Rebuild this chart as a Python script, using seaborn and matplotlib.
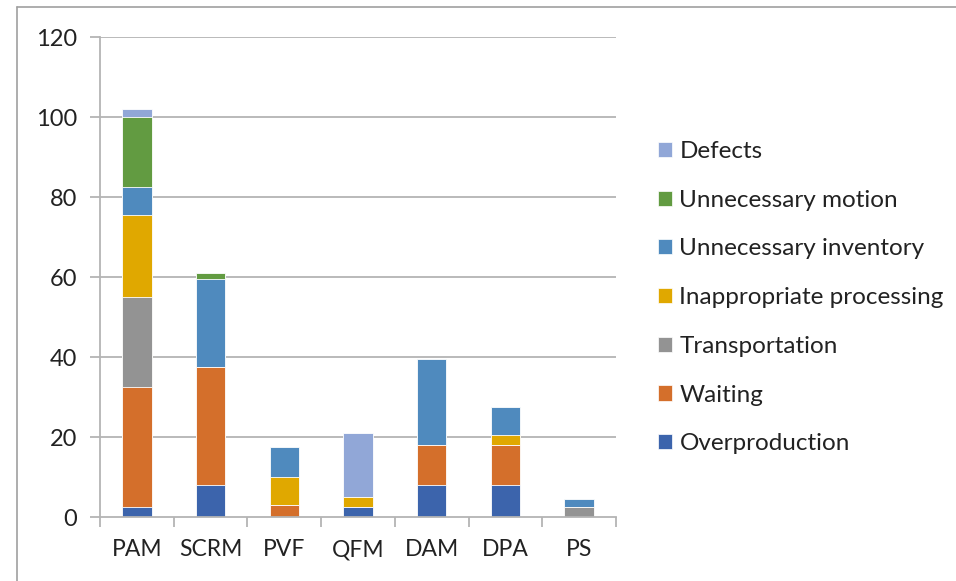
import matplotlib
matplotlib.use("Agg")
import matplotlib.pyplot as plt
from matplotlib.patches import Patch
from matplotlib.lines import Line2D
import seaborn as sns
import pandas as pd
import numpy as np

categories = ["PAM", "SCRM", "PVF", "QFM", "DAM", "DPA", "PS"]
series_names = ["Overproduction", "Waiting", "Transportation", "Inappropriate processing",
                "Unnecessary inventory", "Unnecessary motion", "Defects"]
overproduction = [2.5, 8, 0, 2.5, 8, 8, 0]
waiting = [30, 29.5, 3, 0, 10, 10, 0]
transportation = [22.5, 0, 0, 0, 0, 0, 2.5]
inappropriate = [20.5, 0, 7, 2.5, 0, 2.5, 0]
inventory = [7, 22, 7.5, 0, 21.5, 7, 2]
motion = [17.5, 1.5, 0, 0, 0, 0, 0]
defects = [2, 0, 0, 16, 0, 0, 0]
yticks = [0, 20, 40, 60, 80, 100, 120]

colors = ["#3C64AC", "#D46F2B", "#939393", "#E0A800", "#4F8ABE", "#629B41", "#91A7D7"]

sns.set_theme(style="white")
plt.rcParams["font.family"] = ["Lato", "DejaVu Sans"]

values = [overproduction, waiting, transportation, inappropriate, inventory, motion, defects]
cum = np.cumsum(np.array(values, dtype=float), axis=0)

fig = plt.figure(figsize=(9.56, 5.81), dpi=100)
ax = fig.add_axes([100/956, 1-517/581, (616-100)/956, (517-37)/581])

grid_c = "#B4B4B4"
for yv in yticks[1:]:
    ax.axhline(yv, color=grid_c, lw=1.3, zorder=0)

for i in range(len(series_names) - 1, -1, -1):
    df = pd.DataFrame({"cat": categories, "val": cum[i]})
    sns.barplot(data=df, x="cat", y="val", color=colors[i], width=0.4,
                saturation=1, edgecolor="white", linewidth=0.6, ax=ax, zorder=2)

ax.set_xlim(-0.5, 6.5)
ax.set_ylim(0, 120)
ax.set_yticks(yticks)
ax.set_xlabel("")
ax.set_ylabel("")
for s in ["top", "right"]:
    ax.spines[s].set_visible(False)
for s in ["left", "bottom"]:
    ax.spines[s].set_color(grid_c)
    ax.spines[s].set_linewidth(1.3)
ax.tick_params(axis="y", length=7.2, width=1.3, color=grid_c, pad=9, labelsize=17,
               labelcolor="#222222", left=True, direction="out")
ax.tick_params(axis="x", which="major", length=0, pad=16, labelsize=16.5, labelcolor="#222222")
ax.set_xticks(np.arange(-0.5, 7, 1), minor=True)
ax.tick_params(axis="x", which="minor", length=7.2, width=1.3, color=grid_c, bottom=True,
               direction="out")

handles = [Patch(facecolor=colors[i], edgecolor="white", linewidth=0.5, label=series_names[i])
           for i in range(len(series_names) - 1, -1, -1)]
leg = ax.legend(handles=handles, loc="upper left", bbox_to_anchor=(658/956, 1-141/581),
                bbox_transform=fig.transFigure, frameon=False, fontsize=17.5,
                handlelength=0.58, handleheight=0.58, handletextpad=0.3, labelspacing=1.14,
                borderaxespad=0, borderpad=0)
for t in leg.get_texts():
    t.set_color("#222222")

fig.add_artist(Line2D([17/956, 1], [1-7/581, 1-7/581], transform=fig.transFigure,
                      color="#A0A0A0", lw=1.2))
fig.add_artist(Line2D([17/956, 17/956], [0, 1-7/581], transform=fig.transFigure,
                      color="#A0A0A0", lw=1.2))

fig.savefig("out.png", dpi=100, facecolor="white")
